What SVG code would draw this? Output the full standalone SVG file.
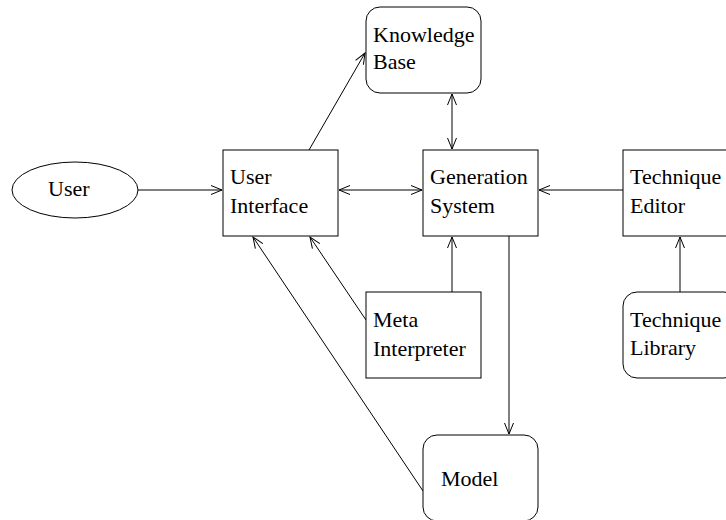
<svg xmlns="http://www.w3.org/2000/svg" width="726" height="520" viewBox="0 0 726 520">
<defs>
<style>
.n{fill:#fff;stroke:#000;stroke-width:1}
.t{font-family:"Liberation Serif","Times New Roman",serif;font-size:22px;fill:#000}
.c{fill:none;stroke:#000;stroke-width:1}
</style>
<marker id="a" markerUnits="userSpaceOnUse" markerWidth="14" markerHeight="12" refX="11" refY="4.5" orient="auto-start-reverse" overflow="visible">
<path d="M0,0 L11,4.5 L0,9" fill="none" stroke="#000" stroke-width="1"/>
</marker>
</defs>
<rect width="726" height="520" fill="#fff"/>
<g id="connectors">
<path class="c" d="M138,190 L222,190" marker-end="url(#a)"/>
<path class="c" d="M339,190 L422,190" marker-start="url(#a)" marker-end="url(#a)"/>
<path class="c" d="M309,150 L365,53" marker-end="url(#a)"/>
<path class="c" d="M452,94 L452,149" marker-start="url(#a)" marker-end="url(#a)"/>
<path class="c" d="M623,190 L539,190" marker-end="url(#a)"/>
<path class="c" d="M680,292 L680,237" marker-end="url(#a)"/>
<path class="c" d="M509,236 L509,434" marker-end="url(#a)"/>
<path class="c" d="M452,292 L452,237" marker-end="url(#a)"/>
<path class="c" d="M366,320 L310,237" marker-end="url(#a)"/>
<path class="c" d="M423,491 L253,237" marker-end="url(#a)"/>
</g>
<g id="user">
<ellipse class="n" cx="75" cy="190" rx="63" ry="28"/>
<text class="t" x="48" y="196">User</text>
</g>
<g id="knowledge-base">
<rect class="n" x="366" y="7" width="115" height="86" rx="14"/>
<text class="t" x="373" y="42">Knowledge</text>
<text class="t" x="373" y="69">Base</text>
</g>
<g id="user-interface">
<rect class="n" x="223" y="150" width="115" height="86"/>
<text class="t" x="230" y="184">User</text>
<text class="t" x="230" y="213">Interface</text>
</g>
<g id="generation-system">
<rect class="n" x="423" y="150" width="115" height="86"/>
<text class="t" x="430" y="184">Generation</text>
<text class="t" x="430" y="213">System</text>
</g>
<g id="technique-editor">
<rect class="n" x="623" y="150" width="115" height="86"/>
<text class="t" x="630" y="184">Technique</text>
<text class="t" x="630" y="213">Editor</text>
</g>
<g id="meta-interpreter">
<rect class="n" x="366" y="292" width="115" height="86"/>
<text class="t" x="373" y="327">Meta</text>
<text class="t" x="373" y="356">Interpreter</text>
</g>
<g id="technique-library">
<rect class="n" x="623" y="292" width="115" height="86" rx="14"/>
<text class="t" x="630" y="327">Technique</text>
<text class="t" x="630" y="355">Library</text>
</g>
<g id="model">
<rect class="n" x="423" y="435" width="115" height="86" rx="14"/>
<text class="t" x="441" y="486">Model</text>
</g>
</svg>
